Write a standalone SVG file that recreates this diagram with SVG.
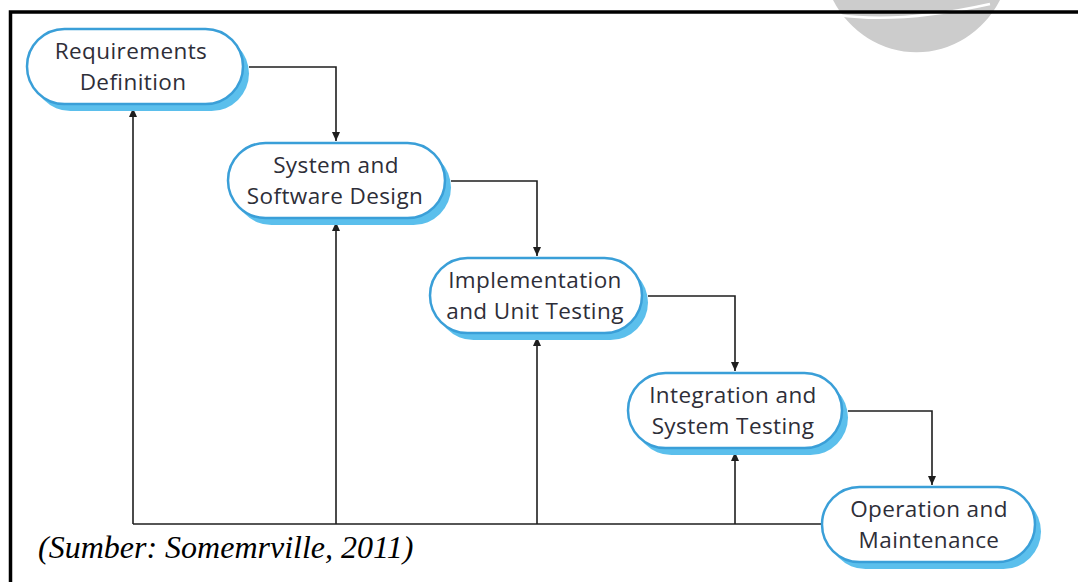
<svg xmlns="http://www.w3.org/2000/svg" width="1078" height="582" viewBox="0 0 1078 582">
  <defs>
    <style>
      .shadow { fill: #5bbfec; }
      .box { fill: #ffffff; stroke: #3a9fd8; stroke-width: 2.5; }
      .label { font-family: "Open Sans", "Noto Sans", sans-serif; font-size: 22.5px; letter-spacing: 0.4px; fill: #2e2e38; text-anchor: middle; }
      .conn { fill: none; stroke: #1e1e1e; stroke-width: 1.6; }
      .caption { font-family: "Liberation Serif", serif; font-style: italic; font-size: 32px; fill: #000; }
    </style>
    <marker id="arrow" markerUnits="userSpaceOnUse" markerWidth="10" markerHeight="8" refX="9" refY="4" orient="auto">
      <path d="M0,0 L9,4 L0,8 z" fill="#1e1e1e"/>
    </marker>
  </defs>
  <rect x="0" y="0" width="1078" height="582" fill="#ffffff"/>
  <!-- gray blob top right -->
  <path d="M833,0 A95,100 0 0 0 1000,0 Z" fill="#cccccc"/>
  <path d="M838,15 Q900,24 990,4" fill="none" stroke="#ffffff" stroke-width="2.5"/>
  <!-- frame -->
  <path d="M10.5,582 L10.5,12 L1078,12" fill="none" stroke="#000" stroke-width="3.5"/>

  <g id="connectors">
    <path class="conn" d="M249,67 H336 V141" marker-end="url(#arrow)"/>
    <path class="conn" d="M451,181 H537 V256" marker-end="url(#arrow)"/>
    <path class="conn" d="M648,296 H735 V371" marker-end="url(#arrow)"/>
    <path class="conn" d="M848,411 H932 V485" marker-end="url(#arrow)"/>
    <path class="conn" d="M822,524 H133"/>
    <path class="conn" d="M133,524 V108" marker-end="url(#arrow)"/>
    <path class="conn" d="M336,524 V222" marker-end="url(#arrow)"/>
    <path class="conn" d="M537,524 V337" marker-end="url(#arrow)"/>
    <path class="conn" d="M735,524 V452" marker-end="url(#arrow)"/>
  </g>

  <g id="node-requirements">
    <rect class="shadow" x="33" y="36" width="216" height="75" rx="37.5"/>
    <rect class="box" x="27" y="29" width="216" height="75" rx="37.5"/>
    <text class="label" x="131" y="58.5">Requirements</text>
    <text class="label" x="133" y="89.5">Definition</text>
  </g>
  <g id="node-design">
    <rect class="shadow" x="234" y="150" width="217" height="75" rx="37.5"/>
    <rect class="box" x="228" y="143" width="217" height="75" rx="37.5"/>
    <text class="label" x="336" y="172.5">System and</text>
    <text class="label" x="335" y="203.5">Software Design</text>
  </g>
  <g id="node-implementation">
    <rect class="shadow" x="436" y="265" width="212" height="75" rx="37.5"/>
    <rect class="box" x="430" y="258" width="212" height="75" rx="37.5"/>
    <text class="label" x="535" y="287.5">Implementation</text>
    <text class="label" x="535" y="318.5">and Unit Testing</text>
  </g>
  <g id="node-integration">
    <rect class="shadow" x="634" y="380" width="214" height="75" rx="37.5"/>
    <rect class="box" x="628" y="373" width="214" height="75" rx="37.5"/>
    <text class="label" x="733" y="402.5">Integration and</text>
    <text class="label" x="733" y="433.5">System Testing</text>
  </g>
  <g id="node-operation">
    <rect class="shadow" x="828" y="494" width="213" height="75" rx="37.5"/>
    <rect class="box" x="822" y="487" width="213" height="75" rx="37.5"/>
    <text class="label" x="929" y="516.5">Operation and</text>
    <text class="label" x="929" y="547.5">Maintenance</text>
  </g>

  <text class="caption" x="38" y="558">(Sumber: Somemrville, 2011)</text>
</svg>
